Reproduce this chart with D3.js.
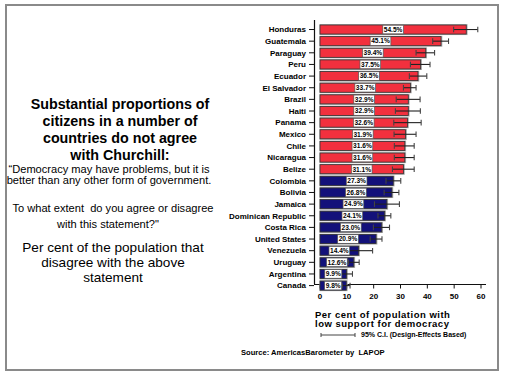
<!DOCTYPE html>
<html>
<head>
<meta charset="utf-8">
<script src="https://cdn.jsdelivr.net/npm/d3@7"></script>
<style>
  body { margin: 0; background: #fff; }
  svg { font-family: "Liberation Sans", Arial, sans-serif; }
  text { white-space: pre; }
</style>
</head>
<body>
<div id="chart"></div>
<script>
const countries = ["Honduras", "Guatemala", "Paraguay", "Peru", "Ecuador", "El Salvador", "Brazil", "Haiti",
  "Panama", "Mexico", "Chile", "Nicaragua", "Belize", "Colombia", "Bolivia", "Jamaica",
  "Dominican Republic", "Costa Rica", "United States", "Venezuela", "Uruguay", "Argentina", "Canada"]
const values = [54.5, 45.1, 39.4, 37.5, 36.5, 33.7, 32.9, 32.9, 32.6, 31.9, 31.6, 31.6, 31.1,
  27.3, 26.8, 24.9, 24.1, 23.0, 20.9, 14.4, 12.6, 9.9, 9.8]
const ciLow = [49.8, 42.0, 35.8, 33.7, 33.3, 31.1, 28.4, 28.1, 27.5, 27.6, 27.7, 27.7, 27.0,
  24.6, 23.9, 20.3, 21.6, 19.9, 18.7, 9.3, 10.6, 7.7, 8.3]
const ciHigh = [58.8, 47.9, 42.7, 41.0, 39.8, 35.8, 37.3, 37.4, 37.7, 35.8, 35.1, 35.1, 35.1,
  30.1, 29.4, 29.6, 26.4, 25.9, 23.1, 19.6, 14.6, 12.1, 11.2]
// first 13 countries (above 30%) are red, the rest navy
const highGroup = 13
const xTicks = [0, 10, 20, 30, 40, 50, 60]

const titleLines = ["Substantial proportions of", "citizens in a number of", "countries do not agree", "with Churchill:"]
const quoteLines = ["\u201cDemocracy may have problems, but it is", "better than any other form of government."]
const questionLines = ["To what extent  do you agree or disagree", "with this statement?\""]
const noteLines = ["Per cent of the population that", "disagree with the above", "statement"]
const axisTitle = ["Per cent of population with", "low support for democracy"]

const width = 505, height = 376
const red = "#f2303e", navy = "#13117a"

const svg = d3.select("#chart").append("svg")
  .attr("width", width)
  .attr("height", height)

// frame
svg.append("rect")
  .attr("x", 6).attr("y", 5)
  .attr("width", 492).attr("height", 365)
  .attr("fill", "none")
  .attr("stroke", "#8a8a8a")
  .attr("stroke-width", 2)

// left-side texts
const left = svg.append("g").attr("text-anchor", "middle").attr("fill", "#000")
left.selectAll(".title").data(titleLines).join("text")
  .attr("x", 120).attr("y", (d, i) => 108.5 + i * 17)
  .attr("font-size", 14.3).attr("font-weight", "bold")
  .text(d => d)
left.selectAll(".quote").data(quoteLines).join("text")
  .attr("x", 109).attr("y", (d, i) => 172.5 + i * 11.5)
  .attr("font-size", 11.1)
  .text(d => d)
left.selectAll(".question").data(questionLines).join("text")
  .attr("x", (d, i) => i ? 108 : 113).attr("y", (d, i) => 212 + i * 16)
  .attr("font-size", 11.1)
  .text(d => d)
left.selectAll(".note").data(noteLines).join("text")
  .attr("x", 113).attr("y", (d, i) => 252 + i * 15)
  .attr("font-size", 13.6)
  .text(d => d)

// scales
const x = d3.scaleLinear().domain([0, 60]).range([320, 481])
const y = d3.scaleBand().domain(countries)
  .range([23.7, 23.7 + countries.length * 11.64])
  .paddingInner(0.22).paddingOuter(0.11)

const chart = svg.append("g")
const axisY = 284

// axis lines
chart.append("line")
  .attr("x1", 314.5).attr("x2", 314.5)
  .attr("y1", 20).attr("y2", axisY)
  .attr("stroke", "#111").attr("stroke-width", 1.2)
chart.append("line")
  .attr("x1", 314).attr("x2", 486)
  .attr("y1", axisY + 0.5).attr("y2", axisY + 0.5)
  .attr("stroke", "#111").attr("stroke-width", 1.2)

// y ticks + labels
chart.selectAll(".ytick").data(countries).join("line")
  .attr("x1", 309).attr("x2", 314)
  .attr("y1", d => y(d) + y.bandwidth() / 2)
  .attr("y2", d => y(d) + y.bandwidth() / 2)
  .attr("stroke", "#111")
chart.selectAll(".ylabel").data(countries).join("text")
  .attr("x", 306)
  .attr("y", d => y(d) + y.bandwidth() / 2)
  .attr("dy", "0.35em")
  .attr("text-anchor", "end")
  .attr("font-size", 8).attr("font-weight", "bold")
  .text(d => d)

// x ticks + labels
chart.selectAll(".xtick").data(xTicks).join("line")
  .attr("x1", d => x(d)).attr("x2", d => x(d))
  .attr("y1", axisY).attr("y2", axisY + 4.5)
  .attr("stroke", "#111")
chart.selectAll(".xlabel").data(xTicks).join("text")
  .attr("x", d => x(d)).attr("y", axisY + 12.5)
  .attr("dy", "0.35em")
  .attr("text-anchor", "middle")
  .attr("font-size", 8).attr("font-weight", "bold")
  .text(d => d)

const rows = countries.map((c, i) => ({ c, v: values[i], lo: ciLow[i], hi: ciHigh[i], i }))

// bars with gray halo
chart.selectAll(".halo").data(rows).join("rect")
  .attr("x", x(0) - 0.5)
  .attr("y", d => y(d.c) - 0.8)
  .attr("width", d => x(d.v) - x(0) + 1.8)
  .attr("height", y.bandwidth() + 1.8)
  .attr("fill", "#a9a9a9")
chart.selectAll(".bar").data(rows).join("rect")
  .attr("x", x(0))
  .attr("y", d => y(d.c))
  .attr("width", d => x(d.v) - x(0))
  .attr("height", y.bandwidth())
  .attr("fill", d => d.i < highGroup ? red : navy)
  .attr("stroke", "#333")
  .attr("stroke-width", 0.8)

// error bars
const err = chart.selectAll(".err").data(rows).join("g")
err.append("line")
  .attr("x1", d => x(d.lo)).attr("x2", d => x(d.hi))
  .attr("y1", d => y(d.c) + y.bandwidth() / 2)
  .attr("y2", d => y(d.c) + y.bandwidth() / 2)
  .attr("stroke", "#222").attr("stroke-width", 1.1)
err.selectAll("line.cap").data(d => [d.lo, d.hi].map(v => ({ v, c: d.c }))).join("line")
  .attr("x1", d => x(d.v)).attr("x2", d => x(d.v))
  .attr("y1", d => y(d.c) + y.bandwidth() / 2 - 2.8)
  .attr("y2", d => y(d.c) + y.bandwidth() / 2 + 2.8)
  .attr("stroke", "#444").attr("stroke-width", 1.1)

// value labels in white boxes
const lab = chart.selectAll(".vlab").data(rows).join("g")
  .attr("transform", d => `translate(${(x(0) + x(d.v)) / 2},${y(d.c) + y.bandwidth() / 2})`)
lab.append("rect")
  .attr("fill", "#fff").attr("stroke", "#555").attr("stroke-width", 0.7)
const vt = lab.append("text")
  .attr("text-anchor", "middle").attr("dy", "0.35em")
  .attr("font-size", 6.6).attr("font-weight", "bold")
  .text(d => d.v.toFixed(1) + "%")
vt.each(function () {
  const w = this.getComputedTextLength() + 2
  d3.select(this.parentNode).select("rect")
    .attr("x", -w / 2).attr("width", w)
    .attr("y", -4.3).attr("height", 8.6)
})

// axis title
svg.append("g").selectAll("text")
  .data(axisTitle).join("text")
  .attr("x", 315).attr("y", (d, i) => 317.5 + i * 9.6)
  .attr("font-size", 9.5).attr("font-weight", "bold")
  .attr("letter-spacing", 0.5)
  .text(d => d)

// CI legend
const legY = 335
svg.append("line").attr("x1", 321).attr("x2", 355).attr("y1", legY).attr("y2", legY)
  .attr("stroke", "#444").attr("stroke-width", 1)
svg.selectAll(".legcap").data([321, 355]).join("line")
  .attr("x1", d => d).attr("x2", d => d)
  .attr("y1", legY - 2).attr("y2", legY + 2)
  .attr("stroke", "#444").attr("stroke-width", 1)
svg.append("text").attr("x", 361).attr("y", legY).attr("dy", "0.35em")
  .attr("font-size", 7).attr("font-weight", "bold")
  .text("95% C.I. (Design-Effects Based)")

svg.append("text").attr("x", 241).attr("y", 352).attr("dy", "0.35em")
  .attr("font-size", 7.6).attr("font-weight", "bold")
  .text("Source: AmericasBarometer by  LAPOP")
</script>
</body>
</html>
